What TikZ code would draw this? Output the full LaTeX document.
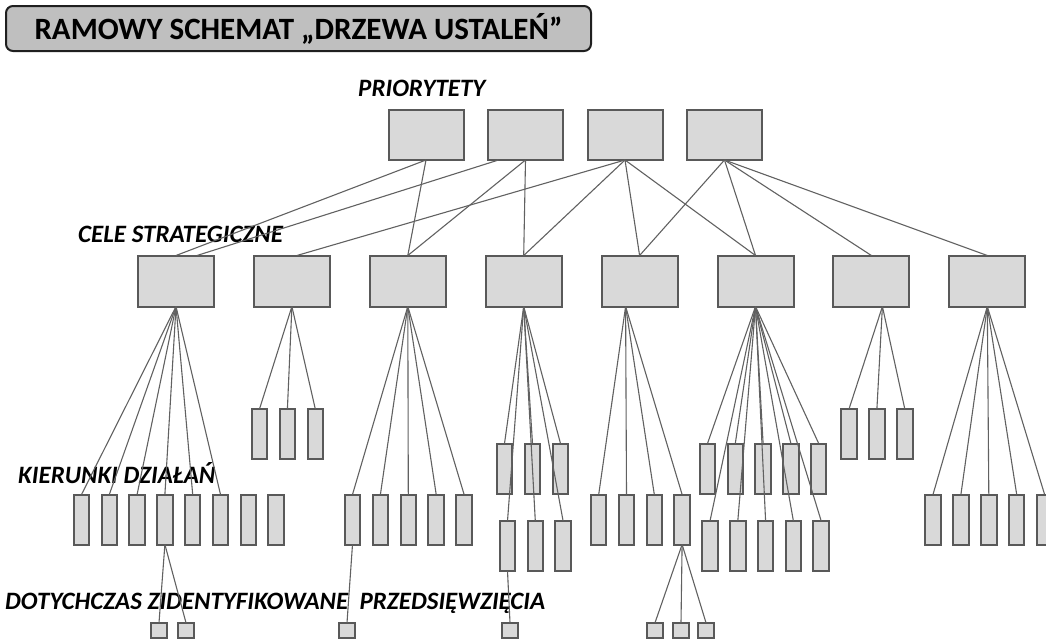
\documentclass[tikz,border=0pt]{standalone}
\usepackage{fontspec}
\setmainfont{Carlito}
\tikzset{
    raw box/.style={rectangle, draw=black!65, fill=black!15, line width=2pt, inner sep=0pt, outer sep=0pt},
    prio box/.style={raw box, minimum width=75, minimum height=50},
    goal box/.style={raw box, minimum width=76, minimum height=51},
    kier box/.style={raw box, minimum width=15.5, minimum height=50},
    przed box/.style={raw box, minimum width=16, minimum height=15.5},
    title box/.style={rectangle, rounded corners=7pt, draw=black!88, fill=black!25, line width=2pt,
        minimum width=585, minimum height=45, font=\bfseries\fontsize{31}{31}\selectfont}
}
\begin{document}
\begin{tikzpicture}[x=1pt, y=-1pt,
	edge/.style={draw=black!62, line width=1.1pt},
	level label/.style={font=\bfseries\itshape\fontsize{25}{25}\selectfont, anchor=base west, inner sep=0pt}]
	\useasboundingbox (0,0) rectangle (1046,640);
	\node[title box] (tytul) at (298.5,28.5) {RAMOWY SCHEMAT „DRZEWA USTALEŃ”};
	\node[level label] (l-prio) at (358,96) {PRIORYTETY};
	\node[level label] (l-cele) at (78,242) {CELE STRATEGICZNE};
	\node[level label] (l-kier) at (18,483) {KIERUNKI DZIAŁAŃ};
	\node[level label] (l-przed) at (5,609) {DOTYCHCZAS ZIDENTYFIKOWANE\ \ PRZEDSIĘWZIĘCIA};
	\foreach \i in {1,...,4}
		\node[prio box] (p\i) at ({426+99.5*(\i-1)},135) {};
	\foreach \i in {1,...,8}
		\node[goal box] (g\i) at ({176+115.9*(\i-1)},281) {};
	\foreach \i in {1,...,8}
		\node[kier box] (k1-\i) at ({81.5+27.8*(\i-1)},519.5) {};
	\foreach \i in {1,...,3}
		\node[kier box] (k2-\i) at ({259.5+27.9*(\i-1)},434) {};
	\foreach \i in {1,...,5}
		\node[kier box] (k3-\i) at ({352.5+27.9*(\i-1)},519.5) {};
	\foreach \i in {1,...,3} {
		\node[kier box] (k4-\i) at ({504.5+28*(\i-1)},468.5) {};
		\node[kier box] (k4-\the\numexpr\i+3\relax) at ({507.5+27.8*(\i-1)},546) {};
	}
	\foreach \i in {1,...,4}
		\node[kier box] (k5-\i) at ({598.7+27.8*(\i-1)},519.5) {};
	\foreach \i in {1,...,5} {
		\node[kier box] (k6-\i) at ({707.5+27.8*(\i-1)},468.5) {};
		\node[kier box] (k6-\the\numexpr\i+5\relax) at ({710+27.8*(\i-1)},546) {};
	}
	\foreach \i in {1,...,3}
		\node[kier box] (k7-\i) at ({849+27.9*(\i-1)},434) {};
	\foreach \i in {1,...,5}
		\node[kier box] (k8-\i) at ({933+27.9*(\i-1)},519.5) {};
	\foreach \n/\x in {d1/159, d2/186, d3/347, d4/510, d5/655, d6/681, d7/706}
		\node[przed box] (\n) at (\x,630.5) {};
	\foreach \a/\b in {p1/g1, p1/g3, p2/g3, p2/g4, p3/g4, p3/g5, p3/g6, p4/g5, p4/g6, p4/g7, p4/g8}
		\draw[edge] (\a.south) -- (\b.north);
	\draw[edge] ([xshift=-27pt]p2.south) -- ([xshift=21pt]g1.north);
	\draw[edge] (p3.south) -- ([xshift=5pt]g2.north);
	\foreach \i in {1,...,6}
		\draw[edge] (g1.south) -- (k1-\i.north);
	\foreach \i in {1,...,3}
		\draw[edge] (g2.south) -- (k2-\i.north);
	\foreach \i in {1,...,5}
		\draw[edge] (g3.south) -- (k3-\i.north);
	\foreach \i in {1,...,6}
		\draw[edge] (g4.south) -- (k4-\i.north);
	\foreach \i in {1,...,4}
		\draw[edge] ([xshift=-14pt]g5.south) -- (k5-\i.north);
	\foreach \i in {1,...,10}
		\draw[edge] (g6.south) -- (k6-\i.north);
	\foreach \i in {1,...,3}
		\draw[edge] ([xshift=11pt]g7.south) -- (k7-\i.north);
	\foreach \i in {1,...,5}
		\draw[edge] (g8.south) -- (k8-\i.north);
	\foreach \a/\b in {k1-4/d1, k1-4/d2, k3-1/d3, k4-4/d4, k5-4/d5, k5-4/d6, k5-4/d7}
		\draw[edge] (\a.south) -- (\b.north);
\end{tikzpicture}
\end{document}
